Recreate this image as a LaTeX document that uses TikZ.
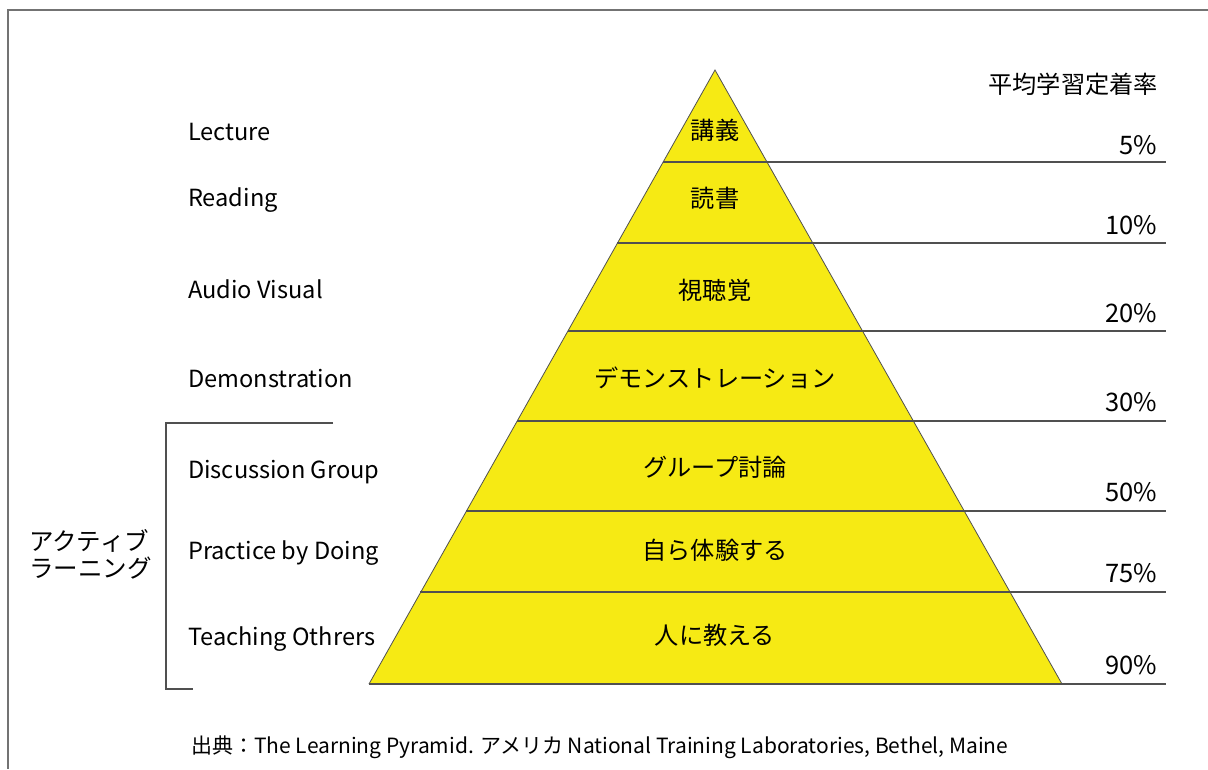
\documentclass[tikz,border=0pt]{standalone}
\usepackage{fontspec}
\setmainfont{Noto Sans CJK JP}
\definecolor{pyr}{RGB}{246,234,20}
\definecolor{ln}{RGB}{80,80,80}
\begin{document}
\begin{tikzpicture}[x=1pt,y=-1pt,
  lbl/.style={font=\fontsize{23.6}{27}\selectfont, inner sep=0pt, anchor=base west},
  ctr/.style={font=\fontsize{24.2}{27}\selectfont, inner sep=0pt, anchor=base},
  pct/.style={font=\fontsize{25.5}{28}\selectfont, inner sep=0pt, anchor=base east},
  rule/.style={draw=ln, line width=1.1pt},
  frame/.style={draw=ln!80, line width=1.2pt}]
\useasboundingbox (0,0) rectangle (1208,769);
\draw[frame] (1208,10) -- (8,10) -- (8,769);
% pyramid
\coordinate (apex) at (715,70);
\coordinate (bl) at (369,684);
\coordinate (br) at (1062,684);
\fill[pyr] (apex) -- (bl) -- (br) -- cycle;
\draw[draw=ln, line width=0.8pt] (bl) -- (apex) -- (br);
% level lines from left edge to right margin
\foreach \yy/\nm in {162/a,243/b,331/c,421/d,511/e,592/f,684/g}{
  \pgfmathsetmacro{\hw}{0.564332*(\yy-70)}
  \coordinate (L\nm) at ({715-\hw},\yy);
  \coordinate (R\nm) at (1166,\yy);
  \draw[rule] (L\nm) -- (R\nm);
}
% header
\node[font=\fontsize{24.2}{27}\selectfont, inner sep=0pt, anchor=base east] (hdr) at (1158,93) {平均学習定着率};
% percentages
\node[pct] (p1) at (1157,154) {5\%};
\node[pct] (p2) at (1157,234) {10\%};
\node[pct] (p3) at (1157,322) {20\%};
\node[pct] (p4) at (1157,411) {30\%};
\node[pct] (p5) at (1157,501) {50\%};
\node[pct] (p6) at (1157,582) {75\%};
\node[pct] (p7) at (1157,674) {90\%};
% left labels
\node[lbl] (e1) at (188,140) {Lecture};
\node[lbl] (e2) at (188,206) {Reading};
\node[lbl] (e3) at (188,298) {Audio Visual};
\node[lbl] (e4) at (188,387) {Demonstration};
\node[lbl] (e5) at (188,478) {Discussion Group};
\node[lbl] (e6) at (188,559) {Practice by Doing};
\node[lbl] (e7) at (188,645) {Teaching Othrers};
% centre labels
\node[ctr] (j1) at (715,139) {講義};
\node[ctr] (j2) at (715,207) {読書};
\node[ctr] (j3) at (715,299) {視聴覚};
\node[ctr] (j4) at (715,387) {デモンストレーション};
\node[ctr] (j5) at (715,476) {グループ討論};
\node[ctr] (j6) at (715,559) {自ら体験する};
\node[ctr] (j7) at (715,644) {人に教える};
% bracket
\coordinate (bt) at (333,423);
\coordinate (btl) at (166,423);
\coordinate (bbl) at (166,689);
\coordinate (bb) at (193,689);
\draw[rule] (bt) -- (btl) -- (bbl) -- (bb);
\node[font=\fontsize{24.5}{27}\selectfont, inner sep=0pt, align=left, anchor=west] (al) at (29,554) {アクティブ\\ラーニング};
% footer
\node[font=\fontsize{21}{24}\selectfont, inner sep=0pt, anchor=base west] (src) at (191,753) {出典：The Learning Pyramid. アメリカ National Training Laboratories, Bethel, Maine};
\end{tikzpicture}
\end{document}
